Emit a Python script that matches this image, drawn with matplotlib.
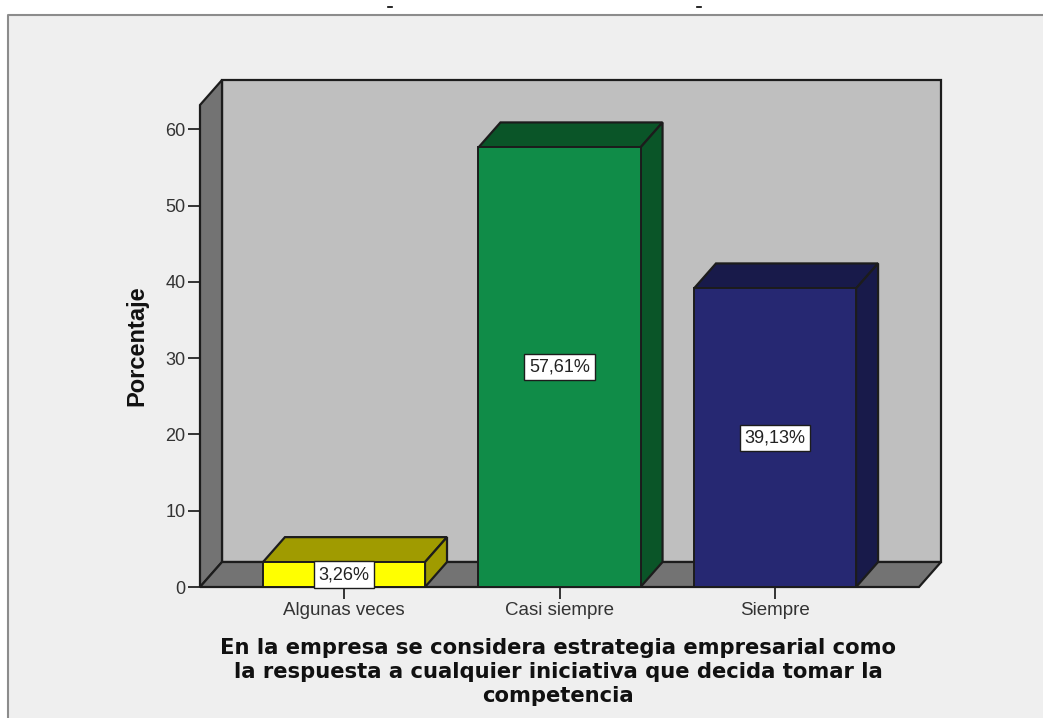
"""3D style bar chart of survey answers."""

import numpy as np
import matplotlib
matplotlib.use("Agg")
import matplotlib.pyplot as plt
from matplotlib.patches import Polygon, Rectangle
from matplotlib.lines import Line2D

categories = ["Algunas veces", "Casi siempre", "Siempre"]
percentages = [3.26, 57.61, 39.13]
yticks = [0, 10, 20, 30, 40, 50, 60]
front_colors = ["#ffff00", "#108c48", "#262872"]
top_colors = ["#a09b00", "#0a5528", "#181a4a"]
side_colors = ["#a09b00", "#0a5528", "#181a4a"]
xlabel = ("En la empresa se considera estrategia empresarial como\n"
          "la respuesta a cualquier iniciativa que decida tomar la\n"
          "competencia")

W, H = 1043, 718
EDGE = "#1c1c1c"

fig = plt.figure(figsize=(W / 100, H / 100), dpi=100, facecolor="white")

# grey panel, open on the right and bottom
fig.add_artist(Rectangle((8 / W, 0), (W - 8) / W, 1 - 15 / H, transform=fig.transFigure,
                         facecolor="#efefef", edgecolor="none", zorder=-5))
fig.add_artist(Line2D([8 / W, 8 / W, 1], [0, 1 - 15 / H, 1 - 15 / H], transform=fig.transFigure,
                      color="#8c8c8c", lw=1.5, zorder=-4))
# cut off marks above the panel
for px in (390, 699):
    fig.add_artist(Line2D([(px - 2) / W, (px + 2) / W], [1 - 7 / H, 1 - 7 / H],
                          transform=fig.transFigure, color="black", lw=1.2))

# axes box is the front plane of the 3D box
ax = fig.add_axes([200 / W, 1 - 587 / H, 719 / W, 482 / H])
ax.patch.set_visible(False)
ax.set_xlim(-0.668, 2.668)
ax.set_ylim(0, 482 / 7.63)
for s in ax.spines.values():
    s.set_visible(False)

x0, x1 = ax.get_xlim()
y0, y1 = ax.get_ylim()
dx = 22 / 215.5
dy = 25 / 7.63


def poly(pts, color, z):
    ax.add_patch(Polygon(pts, closed=True, facecolor=color, edgecolor=EDGE, lw=1.6,
                         joinstyle="miter", clip_on=False, zorder=z))


poly([(x0 + dx, y0 + dy), (x1 + dx, y0 + dy), (x1 + dx, y1 + dy), (x0 + dx, y1 + dy)], "#bfbfbf", 1)
poly([(x0, y0), (x0 + dx, y0 + dy), (x0 + dx, y1 + dy), (x0, y1)], "#737373", 2)
poly([(x0, y0), (x1, y0), (x1 + dx, y0 + dy), (x0 + dx, y0 + dy)], "#737373", 2)

pos = np.arange(len(categories))
width = 0.752
bars = ax.bar(pos, percentages, width=width, color=front_colors, edgecolor=EDGE, lw=1.4, zorder=4)

for bar, top_c, side_c, val in zip(bars, top_colors, side_colors, percentages):
    l, r = bar.get_x(), bar.get_x() + bar.get_width()
    poly([(l, val), (r, val), (r + dx, val + dy), (l + dx, val + dy)], top_c, 3)
    poly([(r, 0), (r + dx, dy), (r + dx, val + dy), (r, val)], side_c, 3)
    ax.text(bar.get_x() + bar.get_width() / 2, val / 2, f"{val:.2f}%".replace(".", ","),
            ha="center", va="center", fontsize=13, family="Liberation Sans", color="#222222",
            zorder=6, bbox=dict(boxstyle="square,pad=0.26", facecolor="white", edgecolor=EDGE, lw=1))

ax.set_xticks(pos)
ax.set_xticklabels(categories, family="Liberation Sans", fontsize=13.5, color="#333333")
ax.set_yticks(yticks)
ax.set_yticklabels([str(v) for v in yticks], family="Liberation Sans", fontsize=13, color="#333333")
ax.tick_params(axis="both", length=8.5, width=1.4, color="#333333", pad=2)
ax.tick_params(axis="x", pad=2)

fig.text(137 / W, 1 - 346 / H, "Porcentaje", rotation=90, ha="center", va="center",
         family="Liberation Sans", fontweight="bold", fontsize=17, color="#111111")
fig.text(558 / W, 1 - 672 / H, xlabel, ha="center", va="center", linespacing=1.25,
         family="DejaVu Sans", fontweight="bold", fontsize=15.2, color="#111111")

plt.savefig("out.png", dpi=100, facecolor=fig.get_facecolor())
plt.close()
